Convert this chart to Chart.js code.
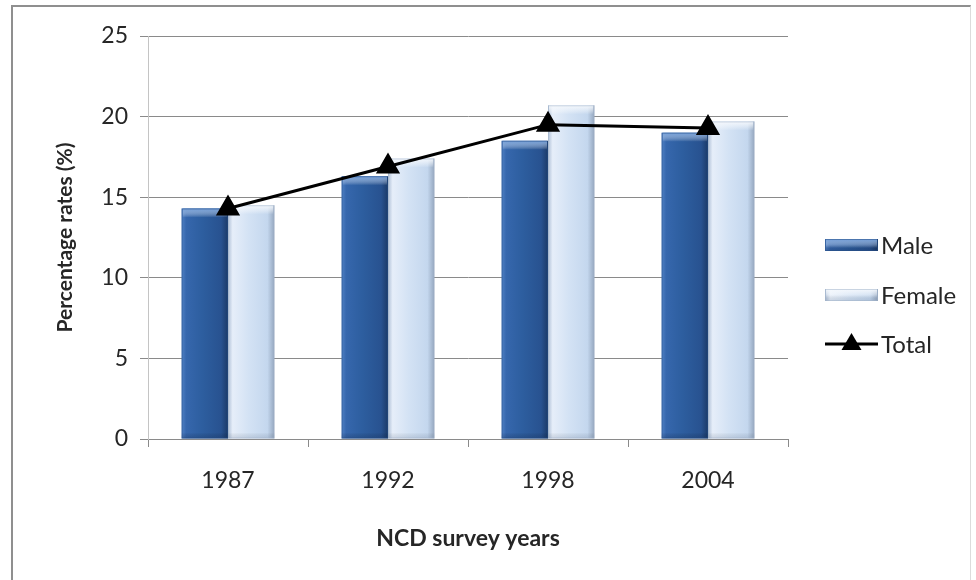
<!DOCTYPE html>
<html>
<head>
<meta charset="utf-8">
<script src="https://cdn.jsdelivr.net/npm/chart.js@4.4.1/dist/chart.umd.min.js"></script>
<style>
  html, body { margin: 0; padding: 0; background: #fff; }
  #wrap { position: relative; width: 976px; height: 580px; overflow: hidden; }
  #frame { position: absolute; left: 11px; top: 5px; width: 960px; height: 600px;
           border-left: 2px solid #8f8f8f; border-top: 2px solid #8f8f8f;
           border-right: 1px solid #dcdcdc; box-sizing: border-box; }
  canvas { position: absolute; left: 0; top: 0; }
</style>
</head>
<body>
<div id="wrap">
  <div id="frame"></div>
  <canvas id="c" width="976" height="580"></canvas>
</div>
<script>
// Survey years and prevalence rates (%)
const years = ['1987', '1992', '1998', '2004'];
const maleRates = [14.3, 16.3, 18.5, 19.0];
const femaleRates = [14.5, 17.4, 20.7, 19.7];
const totalRates = [14.3, 16.9, 19.5, 19.3];
const yTicks = [0, 5, 10, 15, 20, 25];

const FONT = 'Lato, "Open Sans", sans-serif';
const TEXT = '#262626';

// Shaded fill styles for the two bar series
const SKINS = {
  Male: {
    edge: ['#4f80c4', '#3667ad', '#2d5e9f', '#285290', '#1b3a68'],
    cap: '#6f9cd8', base: 'rgba(20,40,80,0.25)', outline: '#254e86'
  },
  Female: {
    edge: ['#aebfd6', '#e6eef9', '#d3e2f4', '#c4d7ee', '#95a7bf'],
    cap: '#f3f7fc', base: 'rgba(90,110,140,0.18)', outline: '#9fb1c8'
  }
};

function paintBar(ctx, left, top, w, h, skin) {
  ctx.save();
  const g = ctx.createLinearGradient(left, 0, left + w, 0);
  g.addColorStop(0, skin.edge[0]);
  g.addColorStop(0.1, skin.edge[1]);
  g.addColorStop(0.45, skin.edge[2]);
  g.addColorStop(0.85, skin.edge[3]);
  g.addColorStop(1, skin.edge[4]);
  ctx.fillStyle = g;
  ctx.fillRect(left, top, w, h);
  // bevelled top
  const capH = Math.min(9, h);
  const cg = ctx.createLinearGradient(0, top, 0, top + capH);
  cg.addColorStop(0, skin.cap);
  cg.addColorStop(1, 'rgba(255,255,255,0)');
  ctx.fillStyle = cg;
  ctx.fillRect(left + 1, top, w - 2, capH);
  // darker foot
  const fg = ctx.createLinearGradient(0, top + h - 6, 0, top + h);
  fg.addColorStop(0, 'rgba(0,0,0,0)');
  fg.addColorStop(1, skin.base);
  ctx.fillStyle = fg;
  ctx.fillRect(left, top + h - 6, w, 6);
  ctx.strokeStyle = skin.outline;
  ctx.lineWidth = 1;
  ctx.globalAlpha = 0.5;
  ctx.strokeRect(left + 0.5, top + 0.5, w - 1, h - 1);
  ctx.restore();
}

// Draw bar elements with shaded fills, using the geometry Chart.js computed
const barSkin = {
  id: 'barSkin',
  beforeDatasetDraw(chart, args) {
    const meta = args.meta;
    if (meta.type !== 'bar') return;
    const skin = SKINS[chart.data.datasets[args.index].label];
    meta.data.forEach(el => {
      const p = el.getProps(['x', 'y', 'base', 'width'], true);
      paintBar(chart.ctx, p.x - p.width / 2, p.y, p.width, p.base - p.y, skin);
    });
    return false;
  }
};

// Legend on the right: Male, Female, Total
const sideLegend = {
  id: 'sideLegend',
  afterDraw(chart) {
    const ctx = chart.ctx;
    const x0 = 825, sw = 53, rows = [245, 295, 344];
    ctx.save();
    ctx.font = '24px ' + FONT;
    ctx.textBaseline = 'middle';
    chart.data.datasets.forEach((ds, i) => {
      const yc = rows[i];
      if (ds.type === 'line') {
        ctx.strokeStyle = '#000';
        ctx.lineWidth = 3;
        ctx.beginPath();
        ctx.moveTo(x0, yc); ctx.lineTo(x0 + sw, yc); ctx.stroke();
        ctx.fillStyle = '#000';
        ctx.beginPath();
        ctx.moveTo(x0 + sw / 2, yc - 11);
        ctx.lineTo(x0 + sw / 2 + 10, yc + 6);
        ctx.lineTo(x0 + sw / 2 - 10, yc + 6);
        ctx.closePath(); ctx.fill();
      } else {
        paintBar(ctx, x0, yc - 6, sw, 12, SKINS[ds.label]);
      }
      ctx.fillStyle = TEXT;
      ctx.fillText(ds.label, x0 + sw + 3, yc + 1);
    });
    ctx.restore();
  }
};

new Chart(document.getElementById('c'), {
  type: 'bar',
  data: {
    labels: years,
    datasets: [
      { label: 'Male', data: maleRates, order: 1 },
      { label: 'Female', data: femaleRates, order: 2 },
      { label: 'Total', type: 'line', data: totalRates, order: 0,
        borderColor: '#000', borderWidth: 3, backgroundColor: '#000',
        pointStyle: 'triangle', pointRadius: 11, pointBackgroundColor: '#000',
        pointBorderColor: '#000', tension: 0 }
    ]
  },
  options: {
    responsive: false,
    animation: false,
    devicePixelRatio: 1,
    layout: { padding: { left: 0, top: 36, right: 188, bottom: 0 } },
    datasets: { bar: { categoryPercentage: 0.58, barPercentage: 1.0 } },
    plugins: { legend: { display: false }, tooltip: { enabled: false } },
    scales: {
      x: {
        afterFit(s) { s.height = 141; },
        grid: { drawOnChartArea: false, drawTicks: true, tickLength: 8, color: '#8a8a8a', offset: true },
        border: { color: '#8a8a8a' },
        ticks: { color: TEXT, font: { family: FONT, size: 23 }, padding: 20 },
        title: { display: true, text: 'NCD survey years', color: TEXT,
                 font: { family: FONT, size: 23, weight: 'bold' }, padding: { top: 0, bottom: 28 } }
      },
      y: {
        min: 0, max: 25,
        afterFit(s) { s.width = 148; },
        afterBuildTicks(s) { s.ticks = yTicks.map(v => ({ value: v })); },
        grid: { color: '#8a8a8a', tickLength: 8 },
        border: { color: '#c4c4c4' },
        ticks: { color: TEXT, font: { family: FONT, size: 23 }, padding: 12 },
        title: { display: true, text: 'Percentage rates (%)', color: TEXT,
                 font: { family: FONT, size: 21, weight: 'bold' }, padding: { top: 53, bottom: 0 } }
      }
    }
  },
  plugins: [barSkin, sideLegend]
});
</script>
</body>
</html>
